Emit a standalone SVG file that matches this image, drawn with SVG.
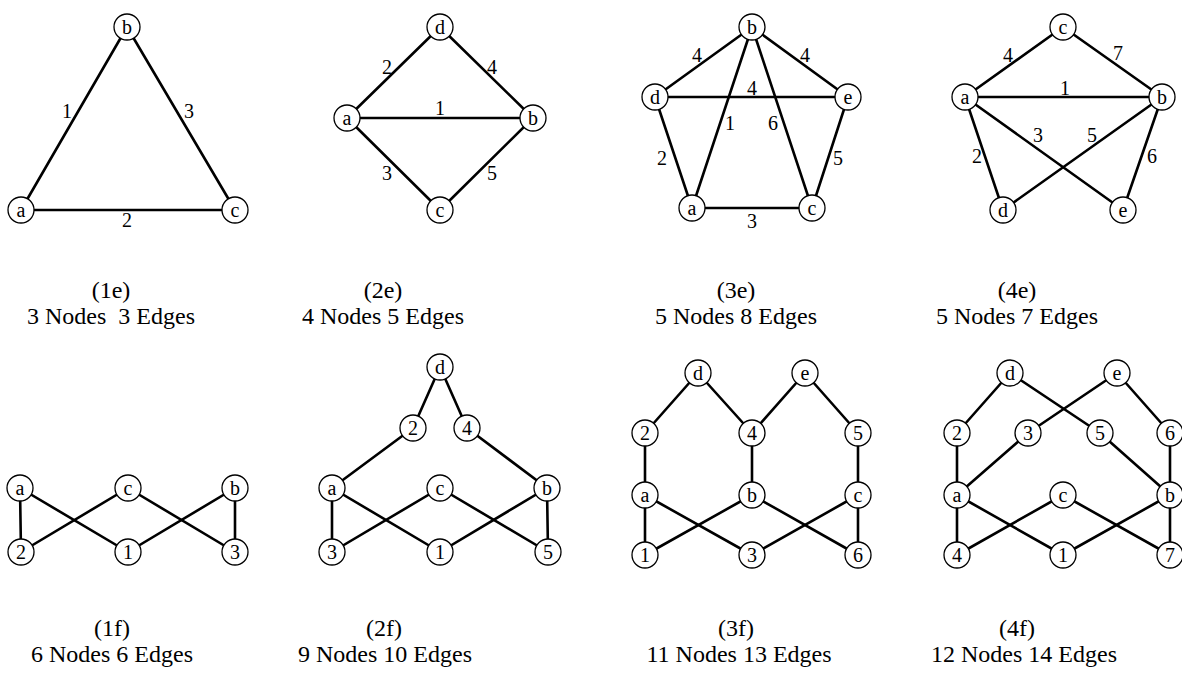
<svg xmlns="http://www.w3.org/2000/svg" width="1182" height="682" viewBox="0 0 1182 682">
  <style>
    .edge { stroke: #000; stroke-width: 2.6; fill: none; stroke-linecap: round; }
    .node circle { fill: #fff; stroke: #000; stroke-width: 1.3; }
    .node text, .elabel { font-family: "Liberation Serif", "Times New Roman", serif; font-size: 20px; text-anchor: middle; fill: #000; }
    .cap { font-family: "Liberation Serif", "Times New Roman", serif; font-size: 24px; text-anchor: middle; fill: #000; }
  </style>

  <!-- ===== connectors ===== -->
  <g id="connectors">
    <!-- 1e -->
    <line class="edge" x1="21" y1="210" x2="127" y2="27"/>
    <line class="edge" x1="127" y1="27" x2="235" y2="210"/>
    <line class="edge" x1="21" y1="210" x2="235" y2="210"/>
    <!-- 2e -->
    <line class="edge" x1="347" y1="118" x2="440" y2="27"/>
    <line class="edge" x1="440" y1="27" x2="533" y2="118"/>
    <line class="edge" x1="347" y1="118" x2="533" y2="118"/>
    <line class="edge" x1="347" y1="118" x2="440" y2="210"/>
    <line class="edge" x1="440" y1="210" x2="533" y2="118"/>
    <!-- 3e -->
    <line class="edge" x1="655" y1="97" x2="752" y2="27"/>
    <line class="edge" x1="752" y1="27" x2="848" y2="97"/>
    <line class="edge" x1="655" y1="97" x2="848" y2="97"/>
    <line class="edge" x1="752" y1="27" x2="692" y2="208"/>
    <line class="edge" x1="752" y1="27" x2="812" y2="208"/>
    <line class="edge" x1="655" y1="97" x2="692" y2="208"/>
    <line class="edge" x1="848" y1="97" x2="812" y2="208"/>
    <line class="edge" x1="692" y1="208" x2="812" y2="208"/>
    <!-- 4e -->
    <line class="edge" x1="965" y1="97" x2="1063" y2="27"/>
    <line class="edge" x1="1063" y1="27" x2="1162" y2="97"/>
    <line class="edge" x1="965" y1="97" x2="1162" y2="97"/>
    <line class="edge" x1="965" y1="97" x2="1003" y2="210"/>
    <line class="edge" x1="965" y1="97" x2="1123" y2="210"/>
    <line class="edge" x1="1162" y1="97" x2="1003" y2="210"/>
    <line class="edge" x1="1162" y1="97" x2="1123" y2="210"/>
    <!-- 1f -->
    <line class="edge" x1="20" y1="488" x2="21" y2="552"/>
    <line class="edge" x1="20" y1="488" x2="128" y2="552"/>
    <line class="edge" x1="128" y1="488" x2="21" y2="552"/>
    <line class="edge" x1="128" y1="488" x2="235" y2="552"/>
    <line class="edge" x1="235" y1="488" x2="128" y2="552"/>
    <line class="edge" x1="235" y1="488" x2="235" y2="552"/>
    <!-- 2f -->
    <line class="edge" x1="440" y1="367" x2="413" y2="428"/>
    <line class="edge" x1="440" y1="367" x2="467" y2="428"/>
    <line class="edge" x1="413" y1="428" x2="332" y2="488"/>
    <line class="edge" x1="467" y1="428" x2="547" y2="488"/>
    <line class="edge" x1="332" y1="488" x2="332" y2="552"/>
    <line class="edge" x1="332" y1="488" x2="440" y2="552"/>
    <line class="edge" x1="440" y1="488" x2="332" y2="552"/>
    <line class="edge" x1="440" y1="488" x2="548" y2="552"/>
    <line class="edge" x1="547" y1="488" x2="440" y2="552"/>
    <line class="edge" x1="547" y1="488" x2="548" y2="552"/>
    <!-- 3f -->
    <line class="edge" x1="698" y1="373" x2="645" y2="433"/>
    <line class="edge" x1="698" y1="373" x2="752" y2="433"/>
    <line class="edge" x1="805" y1="373" x2="752" y2="433"/>
    <line class="edge" x1="805" y1="373" x2="858" y2="433"/>
    <line class="edge" x1="645" y1="433" x2="645" y2="495"/>
    <line class="edge" x1="752" y1="433" x2="752" y2="495"/>
    <line class="edge" x1="858" y1="433" x2="858" y2="495"/>
    <line class="edge" x1="645" y1="495" x2="645" y2="555"/>
    <line class="edge" x1="645" y1="495" x2="752" y2="555"/>
    <line class="edge" x1="752" y1="495" x2="645" y2="555"/>
    <line class="edge" x1="752" y1="495" x2="858" y2="555"/>
    <line class="edge" x1="858" y1="495" x2="752" y2="555"/>
    <line class="edge" x1="858" y1="495" x2="858" y2="555"/>
    <!-- 4f -->
    <line class="edge" x1="1010" y1="373" x2="957" y2="433"/>
    <line class="edge" x1="1010" y1="373" x2="1100" y2="433"/>
    <line class="edge" x1="1117" y1="373" x2="1028" y2="433"/>
    <line class="edge" x1="1117" y1="373" x2="1170" y2="433"/>
    <line class="edge" x1="957" y1="433" x2="957" y2="495"/>
    <line class="edge" x1="1028" y1="433" x2="957" y2="495"/>
    <line class="edge" x1="1100" y1="433" x2="1170" y2="495"/>
    <line class="edge" x1="1170" y1="433" x2="1170" y2="495"/>
    <line class="edge" x1="957" y1="495" x2="957" y2="555"/>
    <line class="edge" x1="957" y1="495" x2="1063" y2="555"/>
    <line class="edge" x1="1063" y1="495" x2="957" y2="555"/>
    <line class="edge" x1="1063" y1="495" x2="1170" y2="555"/>
    <line class="edge" x1="1170" y1="495" x2="1063" y2="555"/>
    <line class="edge" x1="1170" y1="495" x2="1170" y2="555"/>
  </g>

  <!-- ===== edge weights ===== -->
  <g id="edge-labels">
    <text class="elabel" x="67" y="118">1</text>
    <text class="elabel" x="189" y="118">3</text>
    <text class="elabel" x="127" y="227">2</text>

    <text class="elabel" x="387" y="74">2</text>
    <text class="elabel" x="492" y="74">4</text>
    <text class="elabel" x="440" y="115">1</text>
    <text class="elabel" x="387" y="180">3</text>
    <text class="elabel" x="492" y="180">5</text>

    <text class="elabel" x="697" y="62">4</text>
    <text class="elabel" x="805" y="62">4</text>
    <text class="elabel" x="752" y="95">4</text>
    <text class="elabel" x="730" y="130">1</text>
    <text class="elabel" x="773" y="130">6</text>
    <text class="elabel" x="662" y="165">2</text>
    <text class="elabel" x="838" y="165">5</text>
    <text class="elabel" x="752" y="228">3</text>

    <text class="elabel" x="1008" y="62">4</text>
    <text class="elabel" x="1118" y="60">7</text>
    <text class="elabel" x="1065" y="95">1</text>
    <text class="elabel" x="1038" y="142">3</text>
    <text class="elabel" x="1092" y="142">5</text>
    <text class="elabel" x="977" y="163">2</text>
    <text class="elabel" x="1152" y="163">6</text>
  </g>

  <!-- ===== nodes: graph 1e ===== -->
  <g id="g1e-a" class="node"><circle cx="21" cy="210" r="13"/><text x="21" y="217">a</text></g>
  <g id="g1e-b" class="node"><circle cx="127" cy="27" r="13"/><text x="127" y="34">b</text></g>
  <g id="g1e-c" class="node"><circle cx="235" cy="210" r="13"/><text x="235" y="217">c</text></g>

  <!-- graph 2e -->
  <g id="g2e-d" class="node"><circle cx="440" cy="27" r="13"/><text x="440" y="34">d</text></g>
  <g id="g2e-a" class="node"><circle cx="347" cy="118" r="13"/><text x="347" y="125">a</text></g>
  <g id="g2e-b" class="node"><circle cx="533" cy="118" r="13"/><text x="533" y="125">b</text></g>
  <g id="g2e-c" class="node"><circle cx="440" cy="210" r="13"/><text x="440" y="217">c</text></g>

  <!-- graph 3e -->
  <g id="g3e-b" class="node"><circle cx="752" cy="27" r="13"/><text x="752" y="34">b</text></g>
  <g id="g3e-d" class="node"><circle cx="655" cy="97" r="13"/><text x="655" y="104">d</text></g>
  <g id="g3e-e" class="node"><circle cx="848" cy="97" r="13"/><text x="848" y="104">e</text></g>
  <g id="g3e-a" class="node"><circle cx="692" cy="208" r="13"/><text x="692" y="215">a</text></g>
  <g id="g3e-c" class="node"><circle cx="812" cy="208" r="13"/><text x="812" y="215">c</text></g>

  <!-- graph 4e -->
  <g id="g4e-c" class="node"><circle cx="1063" cy="27" r="13"/><text x="1063" y="34">c</text></g>
  <g id="g4e-a" class="node"><circle cx="965" cy="97" r="13"/><text x="965" y="104">a</text></g>
  <g id="g4e-b" class="node"><circle cx="1162" cy="97" r="13"/><text x="1162" y="104">b</text></g>
  <g id="g4e-d" class="node"><circle cx="1003" cy="210" r="13"/><text x="1003" y="217">d</text></g>
  <g id="g4e-e" class="node"><circle cx="1123" cy="210" r="13"/><text x="1123" y="217">e</text></g>

  <!-- graph 1f -->
  <g id="g1f-a" class="node"><circle cx="20" cy="488" r="13"/><text x="20" y="495">a</text></g>
  <g id="g1f-c" class="node"><circle cx="128" cy="488" r="13"/><text x="128" y="495">c</text></g>
  <g id="g1f-b" class="node"><circle cx="235" cy="488" r="13"/><text x="235" y="495">b</text></g>
  <g id="g1f-2" class="node"><circle cx="21" cy="552" r="13"/><text x="21" y="559">2</text></g>
  <g id="g1f-1" class="node"><circle cx="128" cy="552" r="13"/><text x="128" y="559">1</text></g>
  <g id="g1f-3" class="node"><circle cx="235" cy="552" r="13"/><text x="235" y="559">3</text></g>

  <!-- graph 2f -->
  <g id="g2f-d" class="node"><circle cx="440" cy="367" r="13"/><text x="440" y="374">d</text></g>
  <g id="g2f-2" class="node"><circle cx="413" cy="428" r="13"/><text x="413" y="435">2</text></g>
  <g id="g2f-4" class="node"><circle cx="467" cy="428" r="13"/><text x="467" y="435">4</text></g>
  <g id="g2f-a" class="node"><circle cx="332" cy="488" r="13"/><text x="332" y="495">a</text></g>
  <g id="g2f-c" class="node"><circle cx="440" cy="488" r="13"/><text x="440" y="495">c</text></g>
  <g id="g2f-b" class="node"><circle cx="547" cy="488" r="13"/><text x="547" y="495">b</text></g>
  <g id="g2f-3" class="node"><circle cx="332" cy="552" r="13"/><text x="332" y="559">3</text></g>
  <g id="g2f-1" class="node"><circle cx="440" cy="552" r="13"/><text x="440" y="559">1</text></g>
  <g id="g2f-5" class="node"><circle cx="548" cy="552" r="13"/><text x="548" y="559">5</text></g>

  <!-- graph 3f -->
  <g id="g3f-d" class="node"><circle cx="698" cy="373" r="13"/><text x="698" y="380">d</text></g>
  <g id="g3f-e" class="node"><circle cx="805" cy="373" r="13"/><text x="805" y="380">e</text></g>
  <g id="g3f-2" class="node"><circle cx="645" cy="433" r="13"/><text x="645" y="440">2</text></g>
  <g id="g3f-4" class="node"><circle cx="752" cy="433" r="13"/><text x="752" y="440">4</text></g>
  <g id="g3f-5" class="node"><circle cx="858" cy="433" r="13"/><text x="858" y="440">5</text></g>
  <g id="g3f-a" class="node"><circle cx="645" cy="495" r="13"/><text x="645" y="502">a</text></g>
  <g id="g3f-b" class="node"><circle cx="752" cy="495" r="13"/><text x="752" y="502">b</text></g>
  <g id="g3f-c" class="node"><circle cx="858" cy="495" r="13"/><text x="858" y="502">c</text></g>
  <g id="g3f-1" class="node"><circle cx="645" cy="555" r="13"/><text x="645" y="562">1</text></g>
  <g id="g3f-3" class="node"><circle cx="752" cy="555" r="13"/><text x="752" y="562">3</text></g>
  <g id="g3f-6" class="node"><circle cx="858" cy="555" r="13"/><text x="858" y="562">6</text></g>

  <!-- graph 4f -->
  <g id="g4f-d" class="node"><circle cx="1010" cy="373" r="13"/><text x="1010" y="380">d</text></g>
  <g id="g4f-e" class="node"><circle cx="1117" cy="373" r="13"/><text x="1117" y="380">e</text></g>
  <g id="g4f-2" class="node"><circle cx="957" cy="433" r="13"/><text x="957" y="440">2</text></g>
  <g id="g4f-3" class="node"><circle cx="1028" cy="433" r="13"/><text x="1028" y="440">3</text></g>
  <g id="g4f-5" class="node"><circle cx="1100" cy="433" r="13"/><text x="1100" y="440">5</text></g>
  <g id="g4f-6" class="node"><circle cx="1170" cy="433" r="13"/><text x="1170" y="440">6</text></g>
  <g id="g4f-a" class="node"><circle cx="957" cy="495" r="13"/><text x="957" y="502">a</text></g>
  <g id="g4f-c" class="node"><circle cx="1063" cy="495" r="13"/><text x="1063" y="502">c</text></g>
  <g id="g4f-b" class="node"><circle cx="1170" cy="495" r="13"/><text x="1170" y="502">b</text></g>
  <g id="g4f-4" class="node"><circle cx="957" cy="555" r="13"/><text x="957" y="562">4</text></g>
  <g id="g4f-1" class="node"><circle cx="1063" cy="555" r="13"/><text x="1063" y="562">1</text></g>
  <g id="g4f-7" class="node"><circle cx="1170" cy="555" r="13"/><text x="1170" y="562">7</text></g>

  <!-- ===== captions ===== -->
  <g id="captions">
    <text class="cap" x="111" y="298">(1e)</text>
    <text class="cap" x="111" y="324" xml:space="preserve">3 Nodes  3 Edges</text>
    <text class="cap" x="383" y="298">(2e)</text>
    <text class="cap" x="383" y="324">4 Nodes 5 Edges</text>
    <text class="cap" x="736" y="298">(3e)</text>
    <text class="cap" x="736" y="324">5 Nodes 8 Edges</text>
    <text class="cap" x="1017" y="298">(4e)</text>
    <text class="cap" x="1017" y="324">5 Nodes 7 Edges</text>

    <text class="cap" x="112" y="636">(1f)</text>
    <text class="cap" x="112" y="662">6 Nodes 6 Edges</text>
    <text class="cap" x="384" y="636">(2f)</text>
    <text class="cap" x="385" y="662">9 Nodes 10 Edges</text>
    <text class="cap" x="736" y="636">(3f)</text>
    <text class="cap" x="739" y="662">11 Nodes 13 Edges</text>
    <text class="cap" x="1017" y="636">(4f)</text>
    <text class="cap" x="1024" y="662">12 Nodes 14 Edges</text>
  </g>
</svg>
